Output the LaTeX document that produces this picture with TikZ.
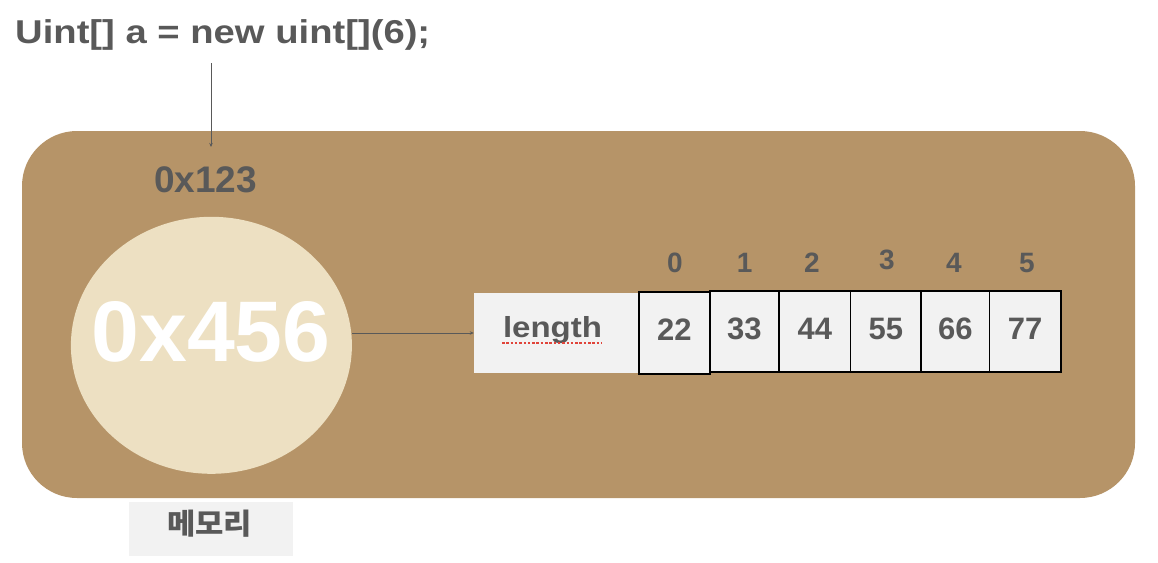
\documentclass[tikz,border=0pt]{standalone}
\usepackage{fontspec}
\usepackage{graphicx}
\setmainfont{Liberation Sans}
\newfontfamily\krfont{Noto Sans CJK KR}
\usetikzlibrary{arrows.meta,shapes.geometric}
\definecolor{brownbg}{HTML}{B69468}
\definecolor{cream}{HTML}{EDE0C2}
\definecolor{txtgray}{HTML}{595959}
\definecolor{boxgray}{HTML}{F2F2F2}
\definecolor{spellred}{HTML}{E0443A}
\tikzset{
  conn/.style={draw=txtgray, line width=0.8pt, -{Stealth[length=4pt,width=3.5pt]}},
  cellbox/.style={draw=black, line width=1.6pt, fill=boxgray, inner sep=0pt, text=txtgray,
    font=\bfseries\fontsize{31}{31}\selectfont},
  idx/.style={text=txtgray, inner sep=0pt, font=\bfseries\fontsize{28}{28}\selectfont},
}
\begin{document}
\begin{tikzpicture}[x=1pt,y=-1pt]
\useasboundingbox (0,0) rectangle (1158,562);
% memory area
\fill[brownbg, rounded corners=55pt] (22,131) rectangle (1135,498);
\node[fill=cream, ellipse, minimum width=281pt, minimum height=257pt, inner sep=0pt] (obj) at (211.4,345.3) {};
\node[text=white, inner sep=0pt, font=\bfseries\fontsize{86}{86}\selectfont] (big) at (211,331.5) {0x456};
\node[text=txtgray, inner sep=0pt, font=\bfseries\fontsize{37}{37}\selectfont] (addr) at (205.5,179.3) {0x123};
% code
\node[text=txtgray, inner sep=0pt, anchor=base west, font=\bfseries\fontsize{33}{33}\selectfont] (code) at (15,43.3) {\resizebox{415pt}{\height}{Uint[] a = new uint[](6);}};
\coordinate (c1) at (211,63);
\coordinate (c2) at (211,147);
\draw[conn] (c1) -- (c2);
% array
\node[fill=boxgray, minimum width=164pt, minimum height=80pt, inner sep=0pt] (len) at (556,333) {};
\node[text=txtgray, inner sep=0pt, anchor=base, font=\bfseries\fontsize{29}{29}\selectfont] (lentxt) at (552.5,337) {\resizebox{99pt}{\height}{length}};
\draw[spellred, line width=2pt, dash pattern=on 2.5pt off 1.8pt] (502,342.5) -- (602,342.5);
\draw[conn] (obj.east |- len.west) -- (len.west);
\node[cellbox, minimum width=71.1pt, minimum height=82pt] (v0) at (674.25,333) {\raisebox{6pt}{22}};
\node[cellbox, minimum width=69.2pt, minimum height=81pt] (v1) at (744.4,331.5) {\raisebox{5pt}{33}};
\node[cellbox, minimum width=71.5pt, minimum height=81pt] (v2) at (814.75,331.5) {\raisebox{5pt}{44}};
\node[cellbox, minimum width=70.5pt, minimum height=81pt] (v3) at (885.75,331.5) {\raisebox{5pt}{55}};
\node[cellbox, minimum width=68.6pt, minimum height=81pt] (v4) at (955.3,331.5) {\raisebox{5pt}{66}};
\node[cellbox, minimum width=71.2pt, minimum height=81pt] (v5) at (1025.2,331.5) {\raisebox{5pt}{77}};
\node[idx] (i0) at (675,263) {0};
\node[idx] (i1) at (744.6,263) {1};
\node[idx] (i2) at (812,263) {2};
\node[idx] (i3) at (887,260) {3};
\node[idx] (i4) at (954,263) {4};
\node[idx] (i5) at (1027,263) {5};
% label
\node[fill=boxgray, minimum width=164pt, minimum height=54pt, inner sep=0pt] (memlbl) at (211,529) {};
\node[text=txtgray, inner sep=0pt, font=\krfont\bfseries\fontsize{29}{29}\selectfont] (memtxt) at (209.5,523.5) {\resizebox{85pt}{\height}{메모리}};
\end{tikzpicture}
\end{document}
